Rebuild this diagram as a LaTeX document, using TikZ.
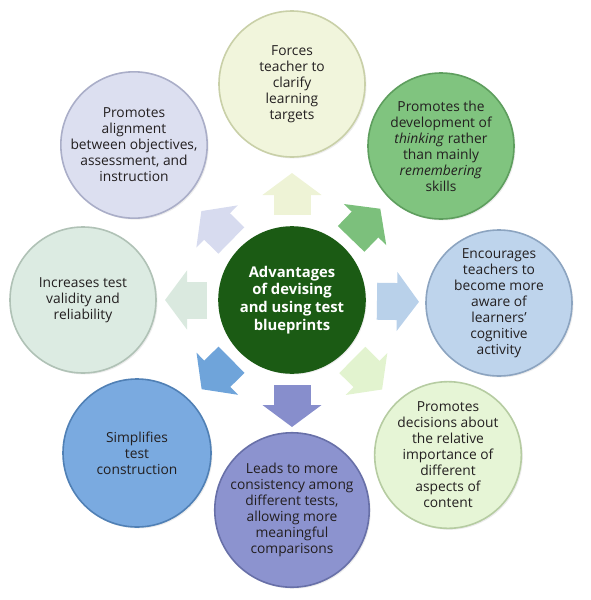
\documentclass[tikz,border=0pt]{standalone}
\usepackage{fontspec}
\setmainfont{Open Sans}
\usetikzlibrary{arrows.meta,calc,shadows}
\definecolor{txt}{HTML}{231F20}
\definecolor{cTop}{HTML}{F1F5DC}\definecolor{bTop}{HTML}{C9D0A8}
\definecolor{cTR}{HTML}{80C47F}\definecolor{bTR}{HTML}{5E9E5E}
\definecolor{cR}{HTML}{BED4EC}\definecolor{bR}{HTML}{8CA4C0}
\definecolor{cBR}{HTML}{E6F5D6}\definecolor{bBR}{HTML}{B6CCA2}
\definecolor{cB}{HTML}{8C93CF}\definecolor{bB}{HTML}{6870A8}
\definecolor{cBL}{HTML}{7AAAE0}\definecolor{bBL}{HTML}{5080B5}
\definecolor{cL}{HTML}{DCEBE2}\definecolor{bL}{HTML}{B0C2B6}
\definecolor{cTL}{HTML}{DCDFF0}\definecolor{bTL}{HTML}{AAAEC8}
\definecolor{cC}{HTML}{1B5B14}
\definecolor{aTop}{HTML}{EEF3D6}
\definecolor{aTR}{HTML}{7CC07C}
\definecolor{aR}{HTML}{B9D1EA}
\definecolor{aBR}{HTML}{E2F3CF}
\definecolor{aB}{HTML}{878ECC}
\definecolor{aBL}{HTML}{6FA4DA}
\definecolor{aL}{HTML}{DAE9DF}
\definecolor{aTL}{HTML}{D7DBEF}
\begin{document}
\begin{tikzpicture}[x=1pt,y=-1pt,
  bub/.style={circle, minimum size=146pt, inner sep=0pt, line width=1.6pt,
    align=center, font=\fontsize{13.8}{16}\selectfont, text=txt,
    drop shadow={opacity=0.15, shadow xshift=1.5pt, shadow yshift=-1.5pt}},
  blk/.style={line width=37pt, -{Triangle[length=22pt,width=58pt]}},
]
\useasboundingbox (0,0) rectangle (591,600);
\node[bub, fill=cC, draw=cC, text=white, font=\bfseries\fontsize{14.8}{17.7}\selectfont] (c) at (292,300)
  {Advantages\\of devising\\and using test\\blueprints};
\node[bub, fill=cTop, draw=bTop] (t) at (292,84) {Forces\\teacher to\\clarify\\learning\\targets};
\node[bub, fill=cTR, draw=bTR] (tr) at (441,146) {Promotes the\\development of\\\textit{thinking} rather\\than mainly\\\textit{remembering}\\skills};
\node[bub, fill=cR, draw=bR] (r) at (499,303) {Encourages\\teachers to\\become more\\aware of\\learners’\\cognitive\\activity};
\node[bub, fill=cBR, draw=bBR] (br) at (448,455) {Promotes\\decisions about\\the relative\\importance of\\different\\aspects of\\content};
\node[bub, fill=cB, draw=bB, minimum size=150pt] (b) at (292,510) {Leads to more\\consistency among\\different tests,\\allowing more\\meaningful\\comparisons};
\node[bub, fill=cBL, draw=bBL, minimum size=148pt] (bl) at (137,453) {Simplifies\\test\\construction};
\node[bub, fill=cL, draw=bL] (l) at (83,300) {Increases test\\validity and\\reliability};
\node[bub, fill=cTL, draw=bTL] (tl) at (134,145) {Promotes\\alignment\\between objectives,\\assessment, and\\instruction};
\foreach \n/\col in {t/aTop, tr/aTR, r/aR, br/aBR, b/aB, bl/aBL, l/aL, tl/aTL}{
  \draw[blk, draw=\col] ($(c)!85pt!(\n)$) -- ($(c)!127pt!(\n)$);
}
\end{tikzpicture}
\end{document}
